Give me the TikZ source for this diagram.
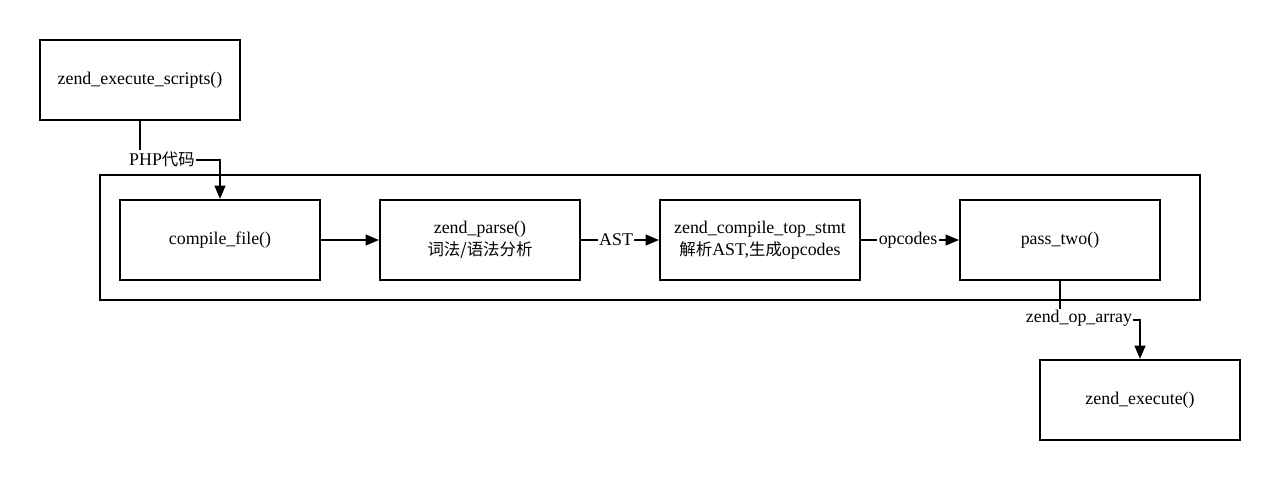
\documentclass[tikz,border=0pt]{standalone}
\usepackage{fontspec}
\setmainfont{Liberation Serif}
\newfontfamily\cjk{Noto Sans CJK SC}
\usetikzlibrary{arrows.meta}
\begin{document}
\begin{tikzpicture}[x=0.75pt,y=-0.75pt,
  box/.style={draw,line width=1.5pt,minimum width=150pt,minimum height=60pt,inner sep=0pt,align=center,font=\fontsize{13.4}{16.5}\selectfont},
  lbl/.style={fill=white,inner sep=1pt,font=\fontsize{13.4}{15}\selectfont},
  zh/.style={},
  conn/.style={line width=1.5pt,-{Triangle[length=10pt,width=8pt]}},
  frame/.style={draw,line width=1.5pt}]
\useasboundingbox (0,0) rectangle (1280,480);
\draw[frame] (100,175) rectangle (1200,300);
\node[box] (scripts) at (140,80) {zend\_execute\_scripts()};
\node[box] (compile) at (220,240) {compile\_file()};
\node[box] (parse) at (480,240) {zend\_parse()\\{\cjk\fontsize{12.3}{15}\selectfont 词法/语法分析}};
\node[box] (top) at (760,240) {zend\_compile\_top\_stmt\\{\cjk\fontsize{12.3}{15}\selectfont 解析}AST,{\cjk\fontsize{12.3}{15}\selectfont 生成}opcodes};
\node[box] (pass) at (1060,240) {pass\_two()};
\node[box] (exec) at (1140,400) {zend\_execute()};
\draw[conn] (scripts.south) -- (140,160) -- (220,160) -- (compile.north);
\node[lbl] (l1) at (162,159) {PHP{\cjk\fontsize{12.3}{15}\selectfont 代码}};
\draw[conn] (compile) -- (parse);
\draw[conn] (parse) -- node[lbl,pos=0.45] (l2) {AST} (top);
\draw[conn] (top) -- node[lbl,pos=0.48] (l3) {opcodes} (pass);
\draw[conn] (pass.south) -- (1060,320) -- (1140,320) -- (exec.north);
\node[lbl] (l4) at (1079,318) {zend\_op\_array};
\end{tikzpicture}
\end{document}
